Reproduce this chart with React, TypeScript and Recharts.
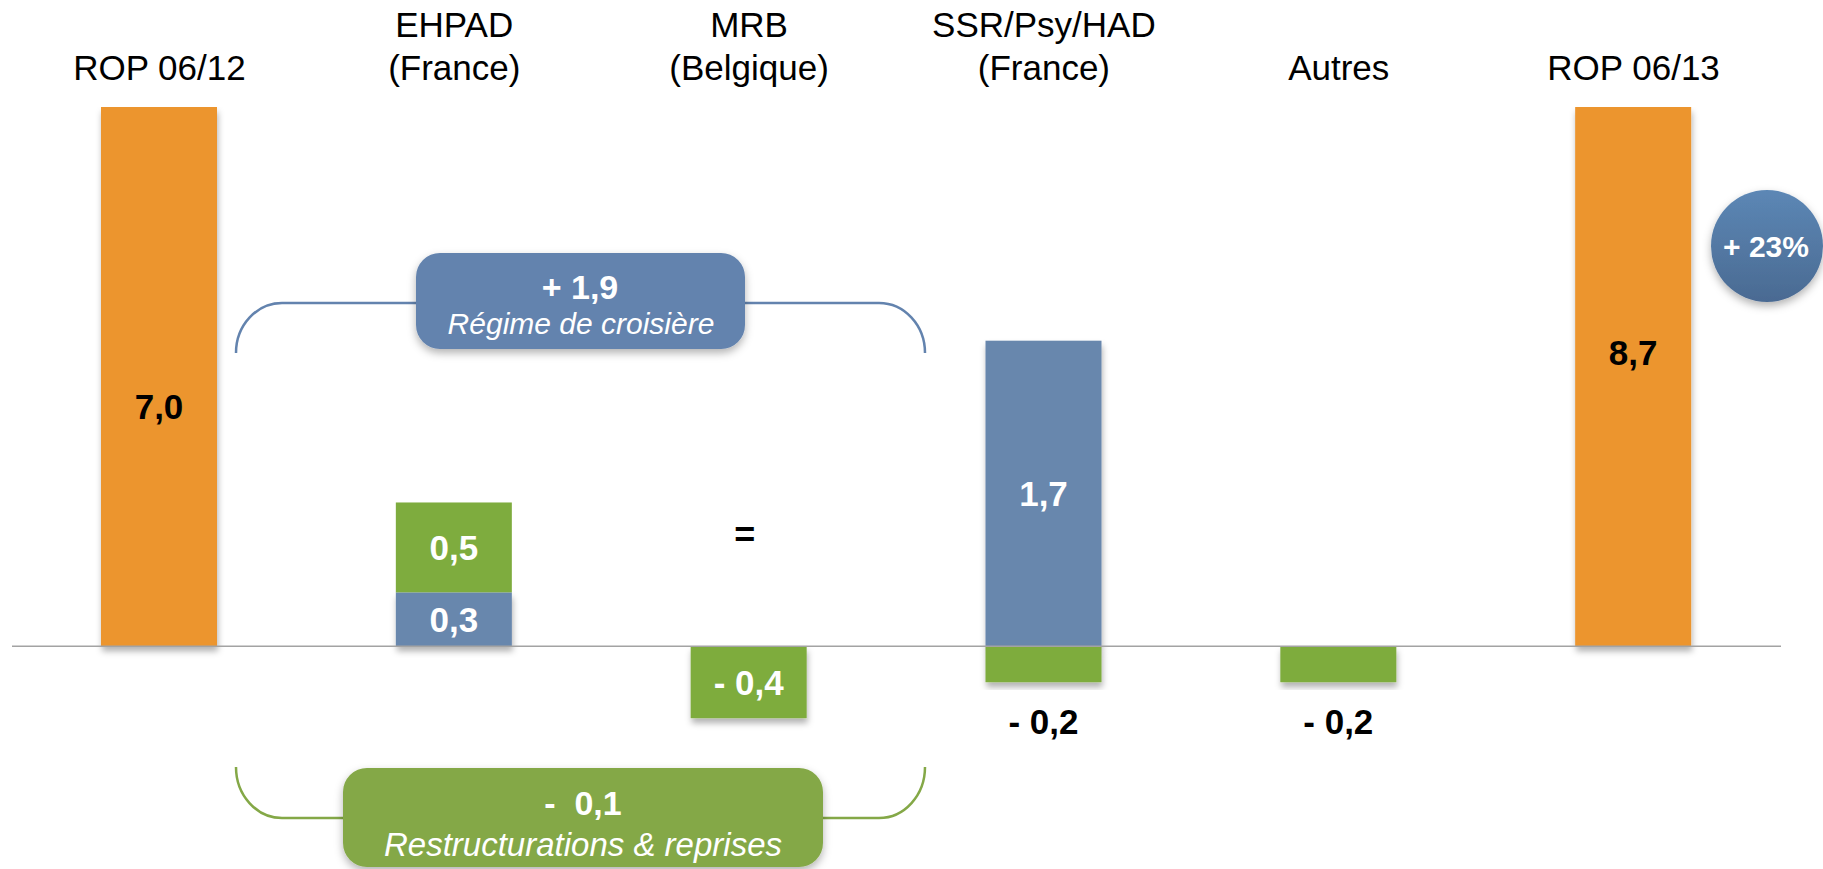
import { Bar, BarChart, LabelList, ReferenceLine, XAxis, YAxis } from "recharts";

// Bridge ROP 06/12 -> ROP 06/13 (M€)
const categories = [
  "ROP 06/12",
  "EHPAD\n(France)",
  "MRB\n(Belgique)",
  "SSR/Psy/HAD\n(France)",
  "Autres",
  "ROP 06/13",
];
const ropValues = [7.0, null, null, null, null, 8.7];
const cruiseValues = [null, 0.3, 0, 1.7, null, null];
const restructValues = [null, 0.5, -0.4, -0.2, -0.2, null];

const cruiseTotal = "+ 1,9";
const cruiseLabel = "Régime de croisière";
const restructTotal = "-  0,1";
const restructLabel = "Restructurations & reprises";
const growthLabel = "+ 23%";

const WIDTH = 1823;
const HEIGHT = 869;
const PLOT_TOP = 107;
const FONT = "'Liberation Sans', Arial, sans-serif";

const ORANGE = "#EC952F";
const BLUE = "#6887AD";
const GREEN = "#7EAC3E";
const BOX_BLUE = "#6383AE";
const BOX_GREEN = "#84A847";

// the two total bars are cut at the top of the plot, labels nudged like the slide
const ROP_LABEL_SHIFT: Record<number, number> = { 0: 30, 5: -24 };

const data = categories.map((name, i) => ({
  name,
  rop: ropValues[i],
  cruise: cruiseValues[i],
  restruct: restructValues[i],
}));

function fmt(v: number) {
  const s = Math.abs(v).toFixed(1).replace(".", ",");
  return v < 0 ? `- ${s}` : s;
}

function box(props: any) {
  const y = Number(props.y);
  const h = Number(props.height);
  return { top: Math.min(y, y + h), bottom: Math.max(y, y + h), h: Math.abs(h) };
}

function makeShape(key: "rop" | "cruise" | "restruct") {
  return (props: any) => {
    const { x, width, fill, payload } = props;
    const { top, h } = box(props);
    if (!h) return <g />;
    // stacked green segment on top of blue gets no shadow
    const shadow = !(key === "restruct" && payload && payload.restruct > 0);
    return (
      <rect
        x={x}
        y={top}
        width={width}
        height={h}
        fill={fill}
        filter={shadow ? "url(#barShadow)" : undefined}
      />
    );
  };
}

function makeLabel(values: (number | null)[]) {
  return (props: any) => {
    const { x, width, index } = props;
    const v = values[index];
    if (v === null || v === undefined) return null;
    const { top, bottom, h } = box(props);
    const cx = Number(x) + Number(width) / 2;
    if (v === 0) {
      return (
        <text x={cx - 4} y={bottom - 99} textAnchor="middle" fontSize={36} fontWeight="bold" fill="#000" fontFamily={FONT}>
          =
        </text>
      );
    }
    if (h < 50) {
      return (
        <text x={cx} y={bottom + 52} textAnchor="middle" fontSize={35} fontWeight="bold" fill="#000" fontFamily={FONT}>
          {fmt(v)}
        </text>
      );
    }
    return (
      <text x={cx} y={(top + bottom) / 2} dominantBaseline="central" textAnchor="middle" fontSize={35} fontWeight="bold" fill="#fff" fontFamily={FONT}>
        {fmt(v)}
      </text>
    );
  };
}

function renderRopLabel(props: any) {
  const { x, width, index } = props;
  const v = ropValues[index];
  if (v === null || v === undefined) return null;
  const { top, bottom } = box(props);
  const visibleTop = Math.max(top, PLOT_TOP);
  const cy = (visibleTop + bottom) / 2 + (ROP_LABEL_SHIFT[index] ?? 0);
  return (
    <text x={Number(x) + Number(width) / 2} y={cy} dominantBaseline="central" textAnchor="middle" fontSize={35} fontWeight="bold" fill="#000" fontFamily={FONT}>
      {fmt(v)}
    </text>
  );
}

function CategoryTick(props: any) {
  const { x, y, payload } = props;
  const lines = String(payload.value).split("\n");
  const n = lines.length;
  return (
    <g>
      {lines.map((line, i) => (
        <text key={line} x={x} y={y - 27 - (n - 1 - i) * 43} textAnchor="middle" fontSize={35} fill="#000" fontFamily={FONT}>
          {line}
        </text>
      ))}
    </g>
  );
}

function Annotations() {
  return (
    <svg
      width={WIDTH}
      height={HEIGHT}
      style={{ position: "absolute", left: 0, top: 0, pointerEvents: "none" }}
    >
      <defs>
        <filter id="boxShadow" x="-20%" y="-20%" width="140%" height="170%">
          <feDropShadow dx="0" dy="4" stdDeviation="4" floodColor="#000" floodOpacity="0.3" />
        </filter>
        <linearGradient id="circleGrad" x1="0" x2="0" y1="0" y2="1">
          <stop offset="0%" stopColor="#5C87B5" />
          <stop offset="100%" stopColor="#4A6A92" />
        </linearGradient>
      </defs>

      {/* upper brace + box */}
      <path d="M236,353 A46,50 0 0 1 282,303 L879,303 A46,50 0 0 1 925,353" fill="none" stroke={BOX_BLUE} strokeWidth={2.5} />
      <rect x={416} y={253} width={329} height={96} rx={24} fill={BOX_BLUE} filter="url(#boxShadow)" />
      <text x={580} y={299} textAnchor="middle" fontSize={34} fontWeight="bold" fill="#fff" fontFamily={FONT}>
        {cruiseTotal}
      </text>
      <text x={581} y={334} textAnchor="middle" fontSize={30} fontStyle="italic" fill="#fff" fontFamily={FONT}>
        {cruiseLabel}
      </text>

      {/* lower brace + box */}
      <path d="M236,767 A46,51 0 0 0 282,818 L879,818 A46,51 0 0 0 925,767" fill="none" stroke={BOX_GREEN} strokeWidth={2.5} />
      <rect x={343} y={768} width={480} height={99} rx={24} fill={BOX_GREEN} filter="url(#boxShadow)" />
      <text x={583} y={815} textAnchor="middle" fontSize={34} fontWeight="bold" fill="#fff" fontFamily={FONT} style={{ whiteSpace: "pre" }}>
        {restructTotal}
      </text>
      <text x={583} y={856} textAnchor="middle" fontSize={33} fontStyle="italic" fill="#fff" fontFamily={FONT}>
        {restructLabel}
      </text>

      {/* growth bubble */}
      <circle cx={1767} cy={246} r={56} fill="url(#circleGrad)" filter="url(#boxShadow)" />
      <text x={1766} y={257} textAnchor="middle" fontSize={30} fontWeight="bold" fill="#fff" fontFamily={FONT}>
        {growthLabel}
      </text>
    </svg>
  );
}

export default function App() {
  return (
    <div style={{ position: "absolute", left: 0, top: 0, width: WIDTH, height: HEIGHT, background: "#fff" }}>
      <BarChart
        width={WIDTH}
        height={HEIGHT}
        data={data}
        stackOffset="sign"
        margin={{ top: 0, right: 42, left: 12, bottom: 7 }}
      >
        <defs>
          <filter id="barShadow" x="-10%" y="-10%" width="120%" height="130%">
            <feDropShadow dx="1" dy="5" stdDeviation="3" floodColor="#000" floodOpacity="0.3" />
          </filter>
        </defs>
        <XAxis
          dataKey="name"
          orientation="top"
          height={PLOT_TOP}
          axisLine={false}
          tickLine={false}
          tickSize={0}
          tickMargin={0}
          interval={0}
          tick={<CategoryTick />}
        />
        <YAxis hide type="number" domain={[-1.2, 3]} allowDataOverflow />
        <Bar dataKey="rop" stackId="a" fill={ORANGE} barSize={116} isAnimationActive={false} shape={makeShape("rop")}>
          <LabelList dataKey="rop" content={renderRopLabel} />
        </Bar>
        <Bar dataKey="cruise" stackId="a" fill={BLUE} barSize={116} isAnimationActive={false} shape={makeShape("cruise")}>
          <LabelList dataKey="cruise" content={makeLabel(cruiseValues)} />
        </Bar>
        <Bar dataKey="restruct" stackId="a" fill={GREEN} barSize={116} isAnimationActive={false} shape={makeShape("restruct")}>
          <LabelList dataKey="restruct" content={makeLabel(restructValues)} />
        </Bar>
        <ReferenceLine y={0} stroke="#A3A3A3" strokeWidth={1.5} />
      </BarChart>
      <Annotations />
    </div>
  );
}
